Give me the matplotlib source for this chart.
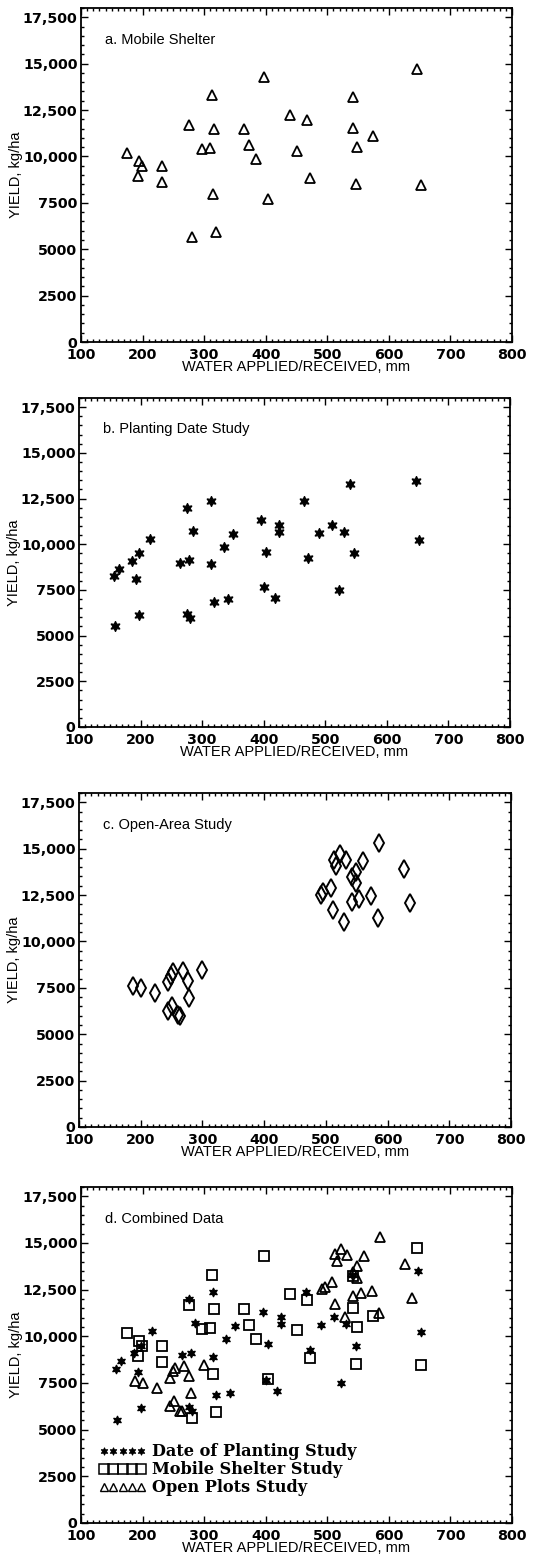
import matplotlib
matplotlib.use("Agg")
import matplotlib.pyplot as plt
from matplotlib.lines import Line2D
from matplotlib.font_manager import FontProperties
from matplotlib.ticker import FixedLocator, FixedFormatter, MultipleLocator

# ---------------- data ----------------
# a. Mobile Shelter
shelter_water = [174, 195, 199, 192, 231, 232, 276, 280, 296, 309, 312, 316, 314, 320,
                 365, 373, 384, 398, 403, 440, 450, 467, 472, 541, 542, 548, 546, 574,
                 646, 652]
shelter_yield = [10180, 9770, 9500, 8960, 9500, 8630, 11690, 5650, 10410, 10450, 13290,
                 11470, 7990, 5920, 11490, 10630, 9860, 14280, 7700, 12250, 10320, 11960,
                 8850, 13220, 11530, 10490, 8530, 11080, 14730, 8450]

# b. Planting Date Study
planting_water = [157, 165, 159, 186, 198, 192, 198, 215, 264, 279, 276, 285, 276, 280,
                  315, 315, 319, 336, 342, 350, 396, 404, 401, 425, 425, 419, 466, 472,
                  490, 511, 523, 530, 540, 546, 647, 652]
planting_yield = [8250, 8660, 5500, 9090, 9500, 8090, 6140, 10290, 9000, 9110, 12000,
                  10700, 6200, 5980, 12390, 8910, 6860, 9860, 6980, 10550, 11320, 9590,
                  7660, 11050, 10660, 7070, 12360, 9250, 10610, 11050, 7480, 10680,
                  13290, 9500, 13480, 10230]

# c. Open-Area Study
open_water = [187, 200, 223, 245, 249, 253, 268, 276, 299, 279, 245, 251, 261, 264,
              492, 496, 508, 513, 516, 523, 532, 512, 529, 542, 549, 549, 542, 554,
              560, 573, 584, 586, 627, 637]
open_yield = [7600, 7490, 7220, 7790, 8150, 8330, 8430, 7850, 8450, 6960, 6260, 6530,
              6010, 5980, 12510, 12650, 12900, 14410, 14060, 14700, 14380, 11710, 11050,
              13450, 13750, 13130, 12140, 12300, 14320, 12440, 11260, 15320, 13900, 12060]

x_ticks = [100, 200, 300, 400, 500, 600, 700, 800]
y_ticks = [0, 2500, 5000, 7500, 10000, 12500, 15000, 17500]
y_tick_labels = ["0", "2500", "5000", "7500", "10,000", "12,500", "15,000", "17,500"]
panel_titles = ["a. Mobile Shelter", "b. Planting Date Study", "c. Open-Area Study",
                "d. Combined Data"]
legend_labels = ["Date of Planting Study", "Mobile Shelter Study", "Open Plots Study"]
x_label = "WATER APPLIED/RECEIVED, mm"
y_label = "YIELD, kg/ha"

# ---------------- figure ----------------
W, H = 540, 1567
fig = plt.figure(figsize=(W / 100, H / 100), dpi=100)

# axes boxes in pixels: (left, top, right, bottom)
boxes = [(81, 8, 512, 342), (79, 398, 510, 727), (79, 793, 511, 1127), (81, 1187, 512, 1523)]

star = (6, 1, 0)
tick_fp = FontProperties(family="DejaVu Sans", weight="bold", size=10.3)
label_font = dict(family="Liberation Sans", size=10.5, weight="medium")


def setup(ax, title):
    ax.set_xlim(100, 800)
    ax.set_ylim(0, 18000)
    ax.xaxis.set_major_locator(FixedLocator(x_ticks))
    ax.xaxis.set_minor_locator(MultipleLocator(10))
    ax.yaxis.set_major_locator(FixedLocator(y_ticks))
    ax.yaxis.set_major_formatter(FixedFormatter(y_tick_labels))
    ax.yaxis.set_minor_locator(MultipleLocator(500))
    ax.tick_params(which="both", direction="in", top=True, right=True, width=1.0)
    ax.tick_params(which="major", length=5)
    ax.tick_params(which="minor", length=2.5)
    ax.tick_params(axis="x", which="major", pad=4)
    ax.tick_params(axis="y", which="major", pad=2.5)
    for lab in ax.get_xticklabels() + ax.get_yticklabels():
        lab.set_fontproperties(tick_fp)
    for s in ax.spines.values():
        s.set_linewidth(1.3)
    ax.set_xlabel(x_label, fontdict=label_font, labelpad=-1)
    ax.set_ylabel(y_label, fontdict=label_font, labelpad=0)
    ax.text(0.056, 0.905, title, transform=ax.transAxes, ha="left", va="center",
            fontdict=dict(family="Liberation Sans", size=10.5))


axes = []
for (l, t, r, b), title in zip(boxes, panel_titles):
    ax = fig.add_axes([l / W, 1 - b / H, (r - l) / W, (b - t) / H])
    setup(ax, title)
    axes.append(ax)

ms_tri = 7
# a
axes[0].plot(shelter_water, shelter_yield, linestyle="none", marker="^", ms=ms_tri,
             mfc="none", mec="black", mew=1.3)
# b
axes[1].plot(planting_water, planting_yield, linestyle="none", marker=star, ms=7.5,
             mfc="black", mec="black", mew=0.8)
# c
axes[2].plot(open_water, open_yield, linestyle="none", marker="d", ms=9,
             mfc="none", mec="black", mew=1.4)
# d
axd = axes[3]
axd.plot(planting_water, planting_yield, linestyle="none", marker=star, ms=6.5,
         mfc="black", mec="black", mew=0.8)
axd.plot(shelter_water, shelter_yield, linestyle="none", marker="s", ms=7,
         mfc="none", mec="black", mew=1.3)
axd.plot(open_water, open_yield, linestyle="none", marker="^", ms=7,
         mfc="none", mec="black", mew=1.3)

handles = [
    Line2D([], [], linestyle="none", marker=star, ms=5.5, mfc="black", mec="black", mew=0.6),
    Line2D([], [], linestyle="none", marker="s", ms=6.5, mfc="none", mec="black", mew=1.1),
    Line2D([], [], linestyle="none", marker="^", ms=6, mfc="none", mec="black", mew=1.0),
]
leg = axd.legend(handles, legend_labels, numpoints=5, loc="lower left",
                 bbox_to_anchor=(0.035, 0.07), frameon=False, handlelength=2.9,
                 handletextpad=0.35, labelspacing=0.06, borderpad=0.2, borderaxespad=0,
                 prop=dict(family="DejaVu Serif", weight="bold", size=11.6))

fig.savefig("out.png", dpi=100)
